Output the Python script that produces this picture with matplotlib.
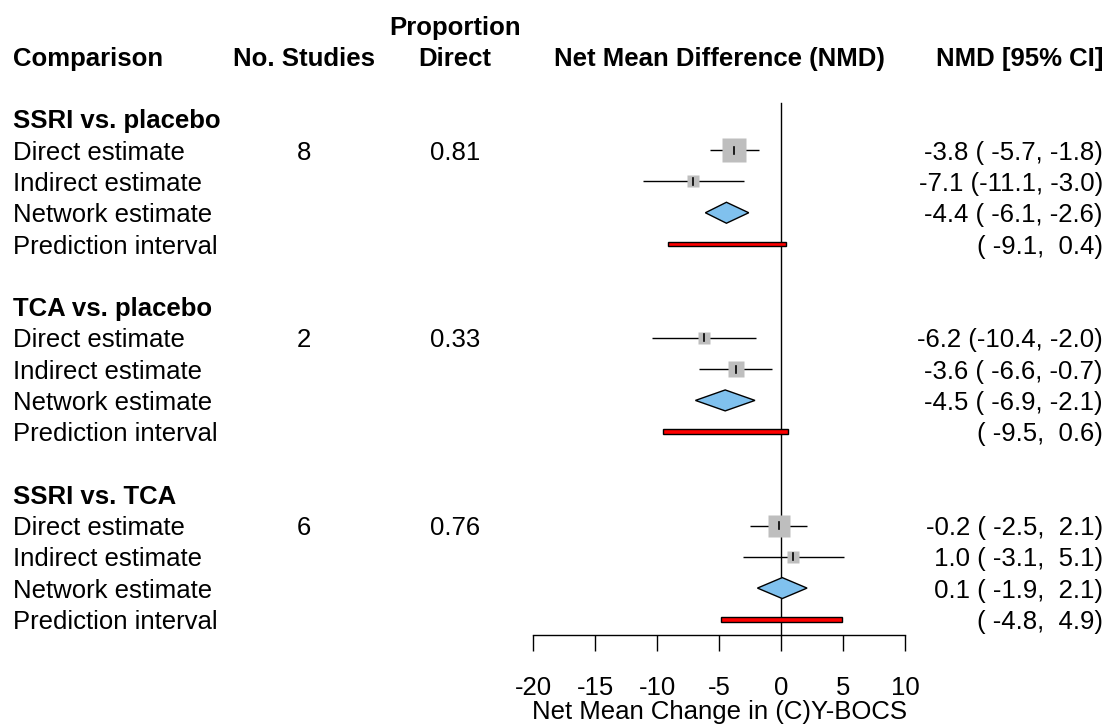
import matplotlib
matplotlib.use("Agg")
import matplotlib.pyplot as plt
from matplotlib.patches import Polygon, Rectangle
from matplotlib.transforms import blended_transform_factory

plt.rcParams['font.family'] = ['Liberation Sans', 'DejaVu Sans']

# ---------------- data ----------------
comparisons = ["SSRI vs. placebo", "TCA vs. placebo", "SSRI vs. TCA"]
n_studies = [8, 2, 6]
prop_direct = [0.81, 0.33, 0.76]

direct_est = [-3.8, -6.2, -0.2]
direct_lo = [-5.7, -10.4, -2.5]
direct_hi = [-1.8, -2.0, 2.1]

indirect_est = [-7.1, -3.6, 1.0]
indirect_lo = [-11.1, -6.6, -3.1]
indirect_hi = [-3.0, -0.7, 5.1]

network_est = [-4.4, -4.5, 0.1]
network_lo = [-6.1, -6.9, -1.9]
network_hi = [-2.6, -2.1, 2.1]

pred_lo = [-9.1, -9.5, -4.8]
pred_hi = [0.4, 0.6, 4.9]

row_labels = ["Direct estimate", "Indirect estimate", "Network estimate", "Prediction interval"]
xticks = [-20, -15, -10, -5, 0, 5, 10]
xlabel = "Net Mean Change in (C)Y-BOCS"

# ---------------- layout ----------------
W, H, DPI = 1107, 725, 100
FS = 18.5
fig = plt.figure(figsize=(W / DPI, H / DPI), dpi=DPI)
row_px = 31.3
first_row_px = 119
axis_px = 635
ax = fig.add_axes([533 / W, (H - axis_px) / H, 372 / W, axis_px / H])
ax.set_xlim(-20, 10)
ax.set_ylim(16.5, -first_row_px / row_px)
ax.patch.set_alpha(0)
for s in ["left", "right", "top"]:
    ax.spines[s].set_visible(False)
ax.spines["bottom"].set_linewidth(1.0)
ax.set_yticks([])
ax.set_xticks(xticks)
ax.set_xticklabels([str(t) for t in xticks])
ax.tick_params(axis="x", direction="out", length=11.5, width=1.0, pad=18.0, labelsize=FS)
ax.set_xlabel(xlabel, fontsize=FS, labelpad=0)

# reference line at 0
ax.plot([0, 0], [-0.5, 16.5], color="black", lw=1.0, clip_on=False, zorder=1)

fx = lambda px: px / W
tr = blended_transform_factory(fig.transFigure, ax.transData)

# headers
hdr = dict(fontsize=FS, fontweight="bold", transform=tr, va="center_baseline")
fig.text(fx(13), -2, "Comparison", ha="left", **hdr)
fig.text(fx(304), -2, "No. Studies", ha="center", **hdr)
fig.text(fx(455), -3, "Proportion", ha="center", **hdr)
fig.text(fx(455), -2, "Direct", ha="center", **hdr)
fig.text(fx(719), -2, "Net Mean Difference (NMD)", ha="center", **hdr)
fig.text(fx(1103), -2, "NMD [95% CI]", ha="right", **hdr)

txt = dict(fontsize=FS, transform=tr, va="center_baseline")

def ci_str(e, lo, hi):
    return "%4.1f (%5.1f, %4.1f)" % (e, lo, hi)

SQ_K = 97.0  # px * CI width  (square side proportional to precision)
for g, comp in enumerate(comparisons):
    k0 = 6 * g
    fig.text(fx(13), k0, comp, ha="left", fontweight="bold", **txt)
    for j, lab in enumerate(row_labels):
        fig.text(fx(13), k0 + 1 + j, lab, ha="left", **txt)
    fig.text(fx(304), k0 + 1, str(n_studies[g]), ha="center", **txt)
    fig.text(fx(455), k0 + 1, "%.2f" % prop_direct[g], ha="center", **txt)

    # direct & indirect estimates
    for j, (e, lo, hi) in enumerate([(direct_est[g], direct_lo[g], direct_hi[g]),
                                     (indirect_est[g], indirect_lo[g], indirect_hi[g])]):
        k = k0 + 1 + j
        ax.plot([lo, hi], [k, k], color="black", lw=1.0, zorder=2, solid_capstyle="butt")
        side_px = SQ_K / (hi - lo)
        ms = side_px * 72 / DPI
        ax.plot([e], [k], marker="s", ms=ms, color="#BEBEBE", mec="none", zorder=3)
        ax.plot([e, e], [k - 0.115, k + 0.115], color="black", lw=1.2, zorder=4)
        fig.text(fx(1103), k, ci_str(e, lo, hi), ha="right", **txt)

    # network diamond
    k = k0 + 3
    h = 0.335
    e, lo, hi = network_est[g], network_lo[g], network_hi[g]
    ax.add_patch(Polygon([(lo, k), (e, k - h), (hi, k), (e, k + h)], closed=True,
                         facecolor="#80C1EE", edgecolor="black", lw=1.0, zorder=3))
    fig.text(fx(1103), k, ci_str(e, lo, hi), ha="right", **txt)

    # prediction interval
    k = k0 + 4
    bh = 0.15
    ax.add_patch(Rectangle((pred_lo[g], k - bh / 2), pred_hi[g] - pred_lo[g], bh,
                           facecolor="#FF0000", edgecolor="black", lw=1.0, zorder=3))
    fig.text(fx(1103), k, "(%5.1f, %4.1f)" % (pred_lo[g], pred_hi[g]), ha="right", **txt)

fig.savefig("out.png", dpi=DPI)
